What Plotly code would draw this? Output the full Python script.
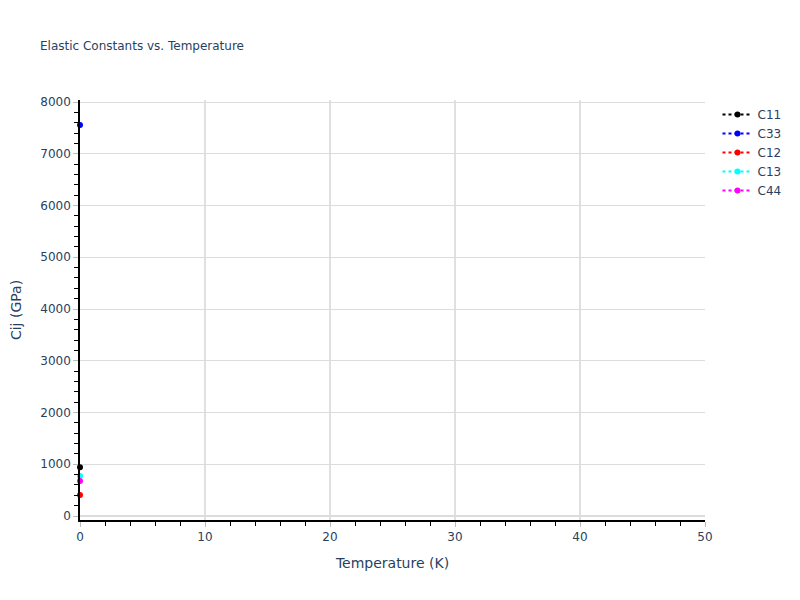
import plotly.graph_objects as go

temperature = [0]
series_names = ["C11", "C33", "C12", "C13", "C44"]
series_values = [[942], [7556], [406], [773], [676]]
series_colors = ["black", "blue", "red", "cyan", "magenta"]

fig = go.Figure()
for name, vals, col in zip(series_names, series_values, series_colors):
    fig.add_trace(go.Scatter(
        x=temperature, y=vals, name=name, mode="lines+markers",
        line=dict(color=col, dash="dot"), marker=dict(color=col, size=6),
        cliponaxis=False,
    ))

fig.update_layout(
    width=800, height=600,
    font=dict(family="DejaVu Sans"),
    title=dict(text="Elastic Constants vs. Temperature", x=0.05, y=0.93,
               font=dict(size=12)),
    plot_bgcolor="white", paper_bgcolor="white",
    margin=dict(l=80, r=95, t=100, b=80),
)
fig.update_xaxes(
    title_text="Temperature (K)", range=[0, 50], dtick=10,
    showline=True, linecolor="black", linewidth=1.5,
    showgrid=True, gridcolor="#e0e0e0", gridwidth=2,
    ticks="outside", tickcolor="#bbb", ticklen=5,
    minor=dict(dtick=2, ticks="outside", tickcolor="black", ticklen=4, showgrid=False),
    zeroline=False,
)
fig.update_yaxes(
    title_text="Cij (GPa)", range=[-77, 8039], dtick=1000,
    showline=True, linecolor="black", linewidth=1.5,
    showgrid=True, gridcolor="#dcdcdc", gridwidth=1,
    ticks="outside", tickcolor="#bbb", ticklen=5,
    minor=dict(dtick=200, ticks="outside", tickcolor="black", ticklen=4, showgrid=False),
    zeroline=True, zerolinecolor="#dcdcdc", zerolinewidth=2,
)

# page body has an 8px default margin; drop it so the figure sits at the corner
fig.write_html("out.html", config={"displayModeBar": False},
               post_script="document.body.style.margin='0';")
